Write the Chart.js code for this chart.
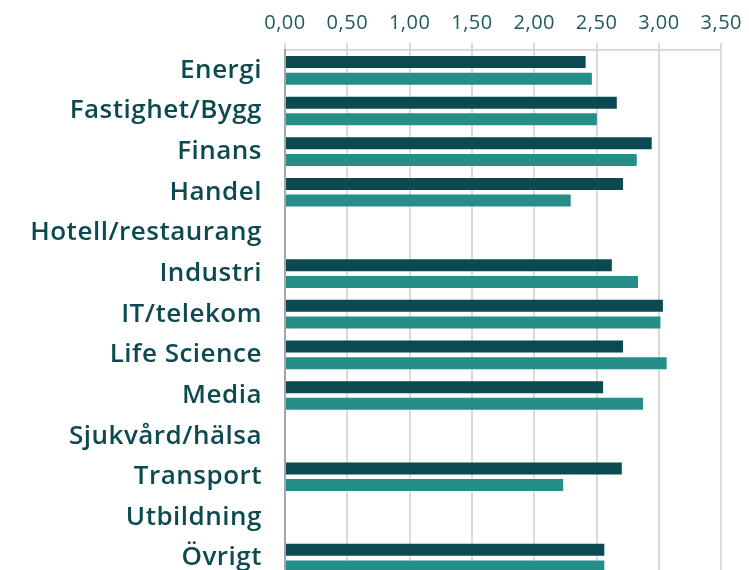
<!DOCTYPE html>
<html>
<head>
<meta charset="utf-8">
<script src="https://cdn.jsdelivr.net/npm/chart.js@4"></script>
<style>
  html, body { margin: 0; padding: 0; background: #fff; overflow: hidden; }
  #wrap { width: 749px; height: 609px; position: relative; }
</style>
</head>
<body>
<div id="wrap"><canvas id="myChart"></canvas></div>
<script>
var categories = ["Energi", "Fastighet/Bygg", "Finans", "Handel", "Hotell/restaurang", "Industri",
  "IT/telekom", "Life Science", "Media", "Sjukvård/hälsa", "Transport", "Utbildning", "Övrigt"];
var seriesA = [2.42, 2.67, 2.95, 2.72, null, 2.63, 3.04, 2.72, 2.56, null, 2.71, null, 2.57];
var seriesB = [2.47, 2.51, 2.83, 2.30, null, 2.84, 3.02, 3.07, 2.88, null, 2.24, null, 2.57];
var xMin = 0, xMax = 3.5, xStep = 0.5;

// the original font is wider; a little tracking brings the labels close
var tracking = {
  id: "tracking",
  beforeDraw: (chart) => { chart.ctx.letterSpacing = "0.5px"; },
};

var ctx = document.getElementById("myChart").getContext("2d");
var chart = new Chart(ctx, {
  type: "bar",
  plugins: [tracking],
  data: {
    labels: categories,
    datasets: [
      {
        data: seriesA,
        backgroundColor: "#0a4a50",
        borderColor: "rgba(255,255,255,0.3)",
        borderWidth: 1,
        categoryPercentage: 0.82,
        barPercentage: 0.84,
      },
      {
        data: seriesB,
        backgroundColor: "#278d88",
        borderColor: "rgba(255,255,255,0.3)",
        borderWidth: 1,
        categoryPercentage: 0.82,
        barPercentage: 0.84,
      },
    ],
  },
  options: {
    indexAxis: "y",
    responsive: true,
    maintainAspectRatio: false,
    animation: false,
    layout: { padding: { top: 3, right: 6, left: 0, bottom: 0 } },
    plugins: {
      legend: { display: false },
      tooltip: { enabled: false },
    },
    scales: {
      x: {
        position: "top",
        min: xMin,
        max: xMax,
        ticks: {
          stepSize: xStep,
          color: "#1c5a5e",
          font: { family: "Open Sans", size: 20 },
          padding: 8,
          callback: (value) => Number(value).toFixed(2).replace(".", ","),
        },
        grid: { color: "#d9d9d9", lineWidth: 2, tickLength: 7 },
        border: { display: true, color: "#d9d9d9", width: 2 },
      },
      y: {
        // fixed label column so the plot starts where the original does
        afterFit: (scale) => { scale.width = 285; },
        ticks: {
          color: "#0d4a4f",
          font: { family: "Open Sans", size: 26, weight: "600" },
          padding: 15,
        },
        grid: { display: false },
        border: { display: true, color: "#a6a6a6", width: 2 },
      },
    },
  },
});
</script>
</body>
</html>
